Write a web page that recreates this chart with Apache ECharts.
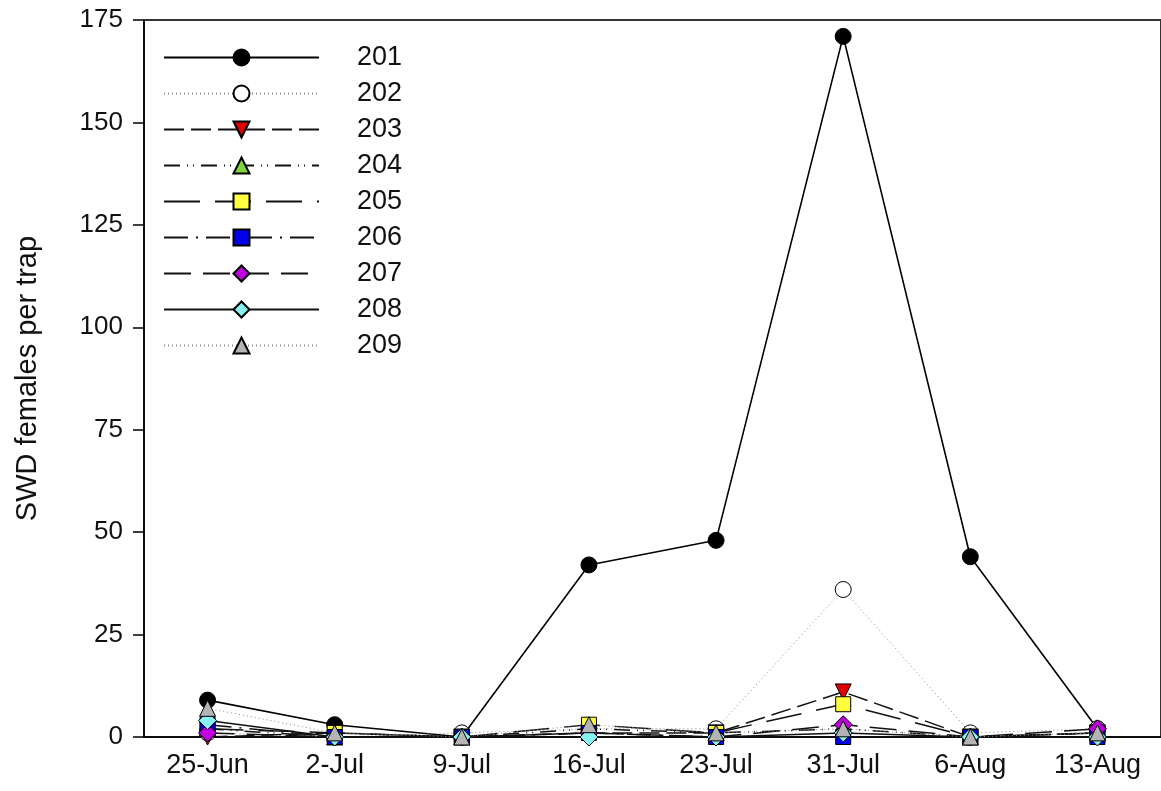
<!DOCTYPE html>
<html>
<head>
<meta charset="utf-8">
<script src="https://cdn.jsdelivr.net/npm/echarts@6/dist/echarts.min.js"></script>
<style>
  html, body { margin: 0; padding: 0; background: #fff; }
  #main { width: 1161px; height: 791px; }
</style>
</head>
<body>
<div id="main"></div>
<script>
var dates = ['25-Jun', '2-Jul', '9-Jul', '16-Jul', '23-Jul', '31-Jul', '6-Aug', '13-Aug'];

var trap201 = [9, 3, 0, 42, 48, 171, 44, 2];
var trap202 = [1, 0, 1, 2, 2, 36, 1, 2];
var trap203 = [0, 1, 0, 1, 1, 11, 0, 1];
var trap204 = [2, 0, 0, 2, 1, 2, 0, 1];
var trap205 = [2, 1, 0, 3, 1, 8, 0, 1];
var trap206 = [3, 0, 0, 1, 0, 0, 0, 0];
var trap207 = [1, 0, 0, 1, 0, 3, 0, 2];
var trap208 = [4, 0, 0, 0, 0, 1, 0, 0];
var trap209 = [7, 1, 0, 3, 1, 2, 0, 1];

var yTicks = [0, 25, 50, 75, 100, 125, 150, 175];

// name, data, marker, rotate, fill, line colour, dash, width
var traps = [
  ['201', trap201, 'circle', 0, '#000000', '#000000', 'solid', 1.6],
  ['202', trap202, 'circle', 0, '#ffffff', '#8a8a8a', [1, 3], 1],
  ['203', trap203, 'triangle', 180, '#e00000', '#111111', [20, 7], 1.5],
  ['204', trap204, 'triangle', 0, '#7fd43a', '#111111', [16, 7, 1, 5, 1, 7], 1.5],
  ['205', trap205, 'rect', 0, '#ffff40', '#111111', [36, 15], 1.5],
  ['206', trap206, 'rect', 0, '#0000ee', '#111111', [24, 8, 2, 8], 1.5],
  ['207', trap207, 'diamond', 0, '#c000e0', '#111111', [27, 12], 1.5],
  ['208', trap208, 'diamond', 0, '#88f2f2', '#111111', 'solid', 1.5],
  ['209', trap209, 'triangle', 0, '#b4b4b4', '#8a8a8a', [1, 3], 1]
];

var chart = echarts.init(document.getElementById('main'));

var series = traps.map(function (t) {
  return {
    name: t[0],
    type: 'line',
    data: t[1],
    symbol: t[2],
    symbolRotate: t[3],
    symbolSize: t[2] === 'diamond' ? 18 : (t[2] === 'rect' ? 15 : 16),
    showAllSymbol: true,
    itemStyle: { color: t[4], borderColor: '#000', borderWidth: 1 },
    lineStyle: { color: t[5], type: t[6], width: t[7] },
    emphasis: { disabled: true }
  };
});

var option = {
  animation: false,
  backgroundColor: '#fff',
  textStyle: { fontFamily: 'Liberation Sans, Arial, sans-serif' },
  grid: {
    left: 144, right: -7, top: 20, bottom: 54,
    show: true, borderColor: '#333', borderWidth: 2
  },
  legend: {
    orient: 'vertical',
    left: 158,
    top: 39,
    itemWidth: 155,
    itemHeight: 20,
    itemGap: 9,
    data: traps.map(function (t) { return t[0]; }),
    textStyle: {
      fontSize: 27, color: '#111', lineHeight: 20,
      padding: [0, 0, 0, 33],
      fontFamily: 'Liberation Sans, Arial, sans-serif'
    }
  },
  xAxis: {
    type: 'category',
    data: dates,
    boundaryGap: true,
    axisTick: { show: false },
    axisLine: { lineStyle: { color: '#000', width: 1.5 } },
    axisLabel: { color: '#111', fontSize: 27, margin: 15 }
  },
  yAxis: {
    type: 'value',
    min: yTicks[0],
    max: yTicks[yTicks.length - 1],
    interval: 25,
    name: 'SWD females per trap',
    nameLocation: 'middle',
    nameGap: 102,
    nameTextStyle: { fontSize: 29, color: '#111' },
    splitLine: { show: false },
    axisLine: { show: true, lineStyle: { color: '#000', width: 1.5 } },
    axisTick: { show: true, length: 11, lineStyle: { color: '#000', width: 1.5 } },
    axisLabel: { color: '#111', fontSize: 26, margin: 21 }
  },
  series: series
};

chart.setOption(option);
</script>
</body>
</html>
